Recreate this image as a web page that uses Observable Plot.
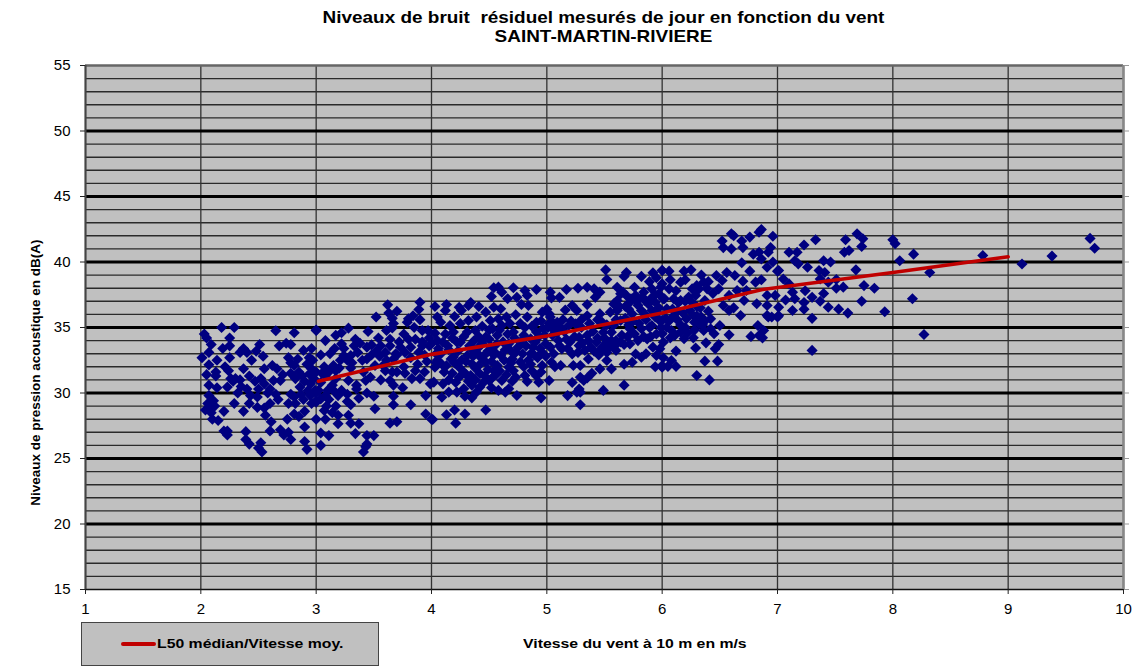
<!DOCTYPE html>
<html><head><meta charset="utf-8">
<script src="https://cdn.jsdelivr.net/npm/d3@7"></script>
<script src="https://cdn.jsdelivr.net/npm/@observablehq/plot@0.6"></script>
<style>
html,body{margin:0;padding:0;background:#fff;}
body{width:1135px;height:668px;position:relative;overflow:hidden;font-family:"Liberation Sans",Arial,sans-serif;color:#000;}
#title{position:absolute;left:0;top:8px;width:1207px;text-align:center;font-weight:bold;font-size:15.85px;line-height:19px;transform:scaleX(1.195);transform-origin:603.5px 0;white-space:nowrap;}
#chart{position:absolute;left:0;top:0;}
#xlabel{position:absolute;left:523px;top:636px;font-weight:bold;font-size:13.4px;transform:scaleX(1.18);transform-origin:0 0;white-space:nowrap;}
#legend{position:absolute;left:81px;top:622px;width:296px;height:42px;background:#c0c0c0;border:1px solid #444;}
#legend i{position:absolute;left:39px;top:19px;width:35px;height:4px;border-radius:2px;background:#c00000;}
#legend span{position:absolute;left:75px;top:13px;font-weight:bold;font-size:13.4px;white-space:nowrap;transform:scaleX(1.18);transform-origin:0 0;}
</style></head><body>
<div id="chart"></div>
<div id="title">Niveaux de bruit&nbsp; résiduel mesurés de jour en fonction du vent<br>SAINT-MARTIN-RIVIERE</div>
<div id="xlabel">Vitesse du vent à 10 m en m/s</div>
<div id="legend"><i></i><span>L50 médian/Vitesse moy.</span></div>
<script>
const xTicks=[1,2,3,4,5,6,7,8,9,10];
const yMajor=[15,20,25,30,35,40,45,50,55];
const yMinor=[16,17,18,19,21,22,23,24,26,27,28,29,31,32,33,34,36,37,38,39,41,42,43,44,46,47,48,49,51,52,53,54];
const median=[[3.02,30.9],[4,32.95],[5,34.35],[6,36.1],[6.87,37.9],[8,39.2],[9,40.4]];
const band2=[[2.18,35.0],[2.29,35.0],[2.65,34.75],[2.81,34.6],[3.0,34.8],[2.03,34.5],[2.05,34.2],[2.09,33.7],[2.25,34.2],[2.25,33.6],[2.19,33.4],[2.37,33.4],[2.34,33.1],[2.4,33.1],[2.48,33.2],[2.51,33.7],[2.68,33.6],[2.74,33.8],[2.78,33.7],[2.89,33.25],[2.96,33.4],[2.94,32.7],[2.01,32.7],[2.07,33.1],[2.25,32.7],[2.14,32.5],[2.44,32.5],[2.54,32.8],[2.76,32.7],[2.07,32.15],[2.13,31.6],[2.05,31.4],[2.13,31.3],[2.21,32.0],[2.24,31.7],[2.26,31.1],[2.23,30.45],[2.14,30.4],[2.07,30.6],[2.07,29.8],[2.11,29.4],[2.08,28.9],[2.04,28.7],[2.1,28],[2.15,27.9],[2.2,28.6],[2.29,29.2],[2.37,28.6],[2.32,30],[2.3,31.1],[2.34,31],[2.37,31.85],[2.42,31.3],[2.4,30.3],[2.43,29.8],[2.42,29.2],[2.49,29.7],[2.49,28.9],[2.55,28.85],[2.6,29.2],[2.55,31.85],[2.52,31.1],[2.55,30.7],[2.5,30.3],[2.62,32.1],[2.66,31.85],[2.69,30.95],[2.63,30.95],[2.6,30.3],[2.65,29.9],[2.67,29.5],[2.78,32.3],[2.81,32.1],[2.78,31.5],[2.85,31.6],[2.88,31.3],[2.82,31.1],[2.86,30.45],[2.78,29.9],[2.81,29.7],[2.76,29.2],[2.82,29.2],[2.89,29.5],[2.96,29.2],[2.9,28.6],[2.81,28.4],[2.85,28.2],[2.75,28],[2.56,28.3],[2.61,27.8],[2.6,27.1],[2.9,27.4],[2.69,27.2],[2.72,26.8],[2.76,27],[2.78,26.45],[2.9,26.3],[2.92,25.7],[2.2,27.1],[2.23,26.8],[2.23,27.1],[2.39,27.05],[2.39,26.45],[2.42,26.1],[2.52,26.2],[2.5,25.8],[2.53,25.5],[2.96,31.85],[2.94,31.45],[2.98,31.1],[2.95,30.7],[3.0,31.6],[2.99,30.2],[2.95,29.8],[3.0,29.4],[2.06,29.2],[2.12,29.0],[2.09,28.5],[2.28,30.9],[2.35,30.5],[2.47,30.9],[2.58,30.0],[2.71,31.4],[2.92,32.2],[2.97,32.5],[2.9,30.9],[2.87,29.9],[2.93,30.2],[2.84,32.6]];
const band3=[[3.62,36.73],[3.9,36.93],[3.89,36.37],[3.7,36.24],[3.63,36.1],[3.52,35.8],[3.66,35.7],[3.67,35.3],[3.8,35.66],[3.79,35.4],[3.9,35.6],[3.84,35.9],[3.28,34.95],[3.0,34.77],[3.45,34.7],[3.61,34.77],[3.66,34.97],[3.85,35.0],[3.92,34.77],[3.97,34.77],[3.76,34.5],[3.22,34.6],[3.17,34.4],[3.08,34],[3.54,34.2],[3.34,34.1],[3.38,33.8],[3.33,33.6],[3.22,33.75],[3.48,33.67],[3.56,33.6],[3.64,34.1],[3.64,33.6],[3.73,33.5],[3.8,34.1],[3.86,34.1],[3.92,33.6],[3.98,33.6],[3.77,33.1],[3.89,33.1],[3.16,33.4],[3.24,33.4],[3.04,32.9],[3.24,32.86],[3.3,32.86],[3.48,32.9],[3.4,32.5],[3.44,32.6],[3.21,32.5],[3.27,32.5],[3.07,32],[3.15,32.1],[3.17,31.7],[3.3,31.9],[3.51,32.1],[3.61,32.5],[3.67,32.6],[3.7,31.6],[3.76,32],[3.86,31.7],[3.83,31.1],[3.9,31.1],[3.99,30.7],[3.08,31.3],[3.17,31.1],[3.28,30.95],[3.47,31.2],[3.56,31],[3.43,30.95],[3.64,30.95],[3.67,30.6],[3.75,30.4],[3.35,30.6],[3.35,30.3],[3.14,30.6],[3.02,30.2],[3.27,29.9],[3.44,30],[3.5,29.75],[3.37,29.6],[3.27,29.35],[3.3,29.1],[3.67,29.75],[3.67,29.1],[3.95,29.8],[3.82,29.1],[3.51,28.8],[3.07,28.66],[3.09,29],[3.17,29],[3.14,28.5],[3.19,28.3],[3.28,28.3],[3.95,28.4],[4.0,28],[3.0,28],[3.08,28],[3.19,27.65],[3.3,27.7],[3.37,27.65],[3.64,27.7],[3.7,27.8],[3.11,26.75],[3.04,26.95],[3.34,26.9],[3.44,26.75],[3.5,26.75],[3.44,26.1],[3.43,25.9],[3.41,25.5],[3.04,26],[3.0,30],[3.04,29.55],[3.0,29.3],[3.08,29.8],[3.04,30.8],[3.92,33.9],[3.96,32.4],[3.82,32.7],[3.72,33.9],[3.55,32.8],[3.6,31.7],[3.94,31.6],[3.98,34.2],[3.12,33.0],[3.1,30.2],[3.22,30.2],[3.31,32.3],[3.41,31.6]];
const band4=[[4.54,38.03],[4.58,38.08],[4.61,37.7],[4.71,38.03],[4.81,37.83],[4.91,37.9],[4.52,37.37],[4.66,37.2],[4.74,37.3],[4.83,37.45],[4.78,36.76],[4.84,36.68],[4.03,36.6],[4.13,36.76],[4.24,36.55],[4.26,36.3],[4.34,36.9],[4.32,36.68],[4.41,36.6],[4.47,36.17],[4.54,36.55],[4.6,36.43],[4.12,36.3],[4.05,35.8],[4.08,35.4],[4.2,35.84],[4.16,35.15],[4.25,35.3],[4.32,35.54],[4.39,35.8],[4.51,35.54],[4.58,35.66],[4.65,35.8],[4.73,35.97],[4.83,35.8],[4.96,36.17],[5.02,36.05],[4.91,35.4],[5.02,35.3],[4.03,34.57],[4.12,34.5],[4.19,34.65],[4.31,34.65],[4.38,34.77],[4.5,34.8],[4.61,35.15],[4.71,34.65],[4.81,35],[4.91,34.65],[4,33.76],[4.1,33.88],[4.25,33.88],[4.37,34],[4.47,34.27],[4.57,34.4],[4.67,33.76],[4.77,33.88],[4.86,34.14],[4.99,33.76],[4.08,32.99],[4.19,32.74],[4.31,32.86],[4.39,33.1],[4.52,33.5],[4.6,32.86],[4.73,33.1],[4.86,33],[4.94,33.4],[4.77,32.36],[4.96,32.1],[4.03,31.97],[4.13,32.1],[4.24,31.97],[4.35,32.23],[4.47,32.36],[4.57,32.1],[4.67,31.97],[4.02,30.83],[4.15,31],[4.11,31.6],[4.24,31.2],[4.34,31.34],[4.42,31.47],[4.5,30.96],[4.54,31.72],[4.61,30.96],[4.73,31.2],[4.81,31.34],[4.83,30.88],[4.93,30.83],[4.95,31.6],[4.42,30.45],[4.28,30.32],[4.15,30.07],[4.09,29.68],[4.22,30.07],[4.29,29.76],[4.35,29.63],[4.39,30.07],[4.58,30.2],[4.67,30.32],[4.64,30.07],[4.74,29.81],[4.95,29.63],[4.2,28.7],[4.13,28.34],[4.29,28.4],[4.47,28.7],[4.01,27.98],[4.21,27.7],[4.06,33.4],[4.15,33.3],[4.22,33.9],[4.28,34.3],[4.35,33.3],[4.44,33.8],[4.46,32.9],[4.55,33.1],[4.62,33.9],[4.66,34.5],[4.7,32.6],[4.8,34.4],[4.84,32.5],[4.92,32.7],[4.9,33.9],[4.97,34.9],[4.44,35.1],[4.53,34.9],[4.68,35.3],[4.77,35.3],[4.87,35.1],[4.05,32.5],[4.17,32.6],[4.26,32.5],[4.38,31.9],[4.49,31.8],[4.56,31.4],[4.63,32.5],[4.71,31.7],[4.87,31.7],[4.91,31.3],[4.32,30.9],[4.45,30.8],[4.18,31.5],[4.28,31.6],[4.43,32.7],[4.1,30.7],[4.52,30.4],[4.99,32.8],[4.04,33.0],[4.95,35.5]];
const band5=[[5.51,39.4],[5.52,38.66],[5.69,39.2],[5.67,38.9],[5.82,38.9],[5.92,39.17],[6,39.35],[5.89,38.5],[5.95,38.8],[5.17,37.9],[5.27,38],[5.35,38.07],[5.41,37.95],[5.46,37.7],[5.03,37.7],[5.04,37.26],[5.11,37.3],[5.42,37.3],[5.35,36.75],[5.61,38.07],[5.64,37.57],[5.76,38.07],[5.69,37.44],[5.77,37.44],[5.84,37.7],[5.91,37.95],[5.97,37.57],[5.61,37.06],[5.72,36.93],[5.85,37.06],[5.94,36.93],[6.01,37.18],[5.16,36.34],[5.22,36.67],[5.26,36.3],[5,36.4],[5.35,35.9],[5.46,36.04],[5.55,36.17],[5.61,36.3],[5.74,36.04],[5.82,36.3],[5.91,36.3],[5.03,35.8],[5.09,35.4],[5.19,35.15],[5.25,35.28],[5.48,35.4],[5.64,35.53],[5.94,35.8],[5.01,35],[5.1,34],[5.28,34.26],[5.35,34.4],[5.49,34.64],[5.56,34.64],[5.65,34.4],[5.72,34.9],[5.82,34.9],[5.91,35.15],[5.99,35],[5.79,34],[5.87,34.13],[5.72,33.75],[5.03,33.5],[5.13,33.37],[5.22,32.98],[5.28,33.62],[5.33,33.24],[5.43,33.88],[5.46,33.24],[5.54,33.5],[5.6,33.24],[5.36,32.6],[5.82,32.73],[5.77,32.98],[5.95,32.86],[5.98,33.37],[6.01,33.88],[5.04,32.35],[5.07,32],[5.12,32.1],[5.23,32.1],[5.29,32.1],[5.52,32.48],[5.56,31.84],[5.46,31.84],[5.39,31.5],[5.67,32.2],[5.74,32.35],[5.94,32],[6,31.97],[5.29,31.2],[5.35,31.15],[5.32,30.95],[5.02,30.95],[5.22,30.8],[5.28,30.3],[5.26,30.06],[5.29,30.06],[5.67,30.6],[5.49,30.2],[5.18,29.8],[5.29,29.1],[5.05,34.4],[5.15,34.7],[5.2,33.9],[5.12,35.0],[5.38,33.5],[5.4,34.7],[5.52,33.9],[5.58,35.2],[5.67,33.7],[5.75,35.5],[5.86,35.6],[5.9,34.3],[5.95,34.5],[5.6,34.0],[5.45,32.9],[5.52,33.1],[5.86,33.0],[5.92,33.5],[5.3,35.0],[5.68,36.6],[5.97,36.5],[5.79,36.7],[5.88,36.8],[5.58,36.8],[5.66,37.7],[5.99,38.1],[5.94,37.5],[5.06,33.0]];
const band6=[[6.6,42.15],[6.62,42],[6.52,41.6],[6.86,42.48],[6.84,42.28],[6.96,41.97],[6.76,41.9],[6.69,41.6],[6.53,41.1],[6.6,41],[6.7,41.1],[6.79,40.6],[6.84,40.75],[6.94,41.1],[6.92,40.75],[6.86,40.24],[6.91,39.6],[6.96,40],[6.69,39.94],[6.76,39.3],[7,39.3],[6,39.35],[6.06,39.3],[6.19,39.3],[6.25,39.4],[6.34,39],[6.47,38.97],[6.56,39.2],[6.63,38.97],[6.7,38.54],[6.07,38.64],[6.16,38.46],[6.2,38.64],[6.36,38.46],[6.52,38.59],[6.81,38.46],[6.86,38.64],[6,38.34],[6.06,37.95],[6.26,37.95],[6.32,37.95],[6.39,37.95],[6.49,37.95],[6.65,37.83],[6.73,37.83],[6.1,37.19],[6.16,37.06],[6.29,37.45],[6.23,37.32],[6.37,37.06],[6.58,37.45],[6.91,37.45],[6.98,37.45],[6.71,37.06],[6.82,36.81],[6.91,36.68],[6.53,36.68],[6.58,36.3],[6.62,36.5],[6.04,36.43],[6.13,36.25],[6.4,36.25],[6.27,35.92],[6.21,35.66],[6.34,35.8],[6.42,35.66],[6.68,35.92],[6.91,35.92],[6.95,35.8],[7,35.8],[6,35.54],[6.2,35],[6.32,35.28],[6.5,35.15],[6.08,34.77],[6.16,34.65],[6.36,34.77],[6.45,34.52],[6.58,34.44],[6.83,35.15],[6.88,34.77],[6.77,34.32],[6.84,34.39],[6.87,34.21],[6.07,34.21],[6.19,34.14],[6.27,34.21],[6,34.52],[6.38,33.83],[6.29,33.43],[6.46,33.37],[6.49,33.7],[6.12,33.2],[6.01,32.69],[6.08,32.48],[6.12,32.03],[6.05,32.03],[6,32.1],[6.37,32.43],[6.48,32.43],[6.3,31.34],[6.41,31],[6.3,36.6],[6.35,35.2],[6.28,35.4],[6.24,36.3],[6.33,36.5],[6.44,37.6],[6.3,38.2],[6.4,38.5],[6.12,37.8],[6.02,37.2],[6.06,35.5],[6.1,35.9],[6.16,35.2]];
const band7=[[7.23,41.3],[7.33,41.7],[7.1,40.75],[7.17,40.75],[7.15,40.1],[7.18,39.86],[7.26,39.6],[7.01,39.35],[7.05,38.7],[7.1,38.33],[7.36,39.35],[7.4,40.1],[7.46,40],[7.41,39.2],[7.59,41.7],[7.62,40.88],[7.58,40.75],[7.69,42.15],[7.74,41.77],[7.73,41.18],[7.68,39.4],[7.37,38.7],[7.51,38.66],[7.44,38.46],[7.51,38],[7.57,38.08],[7.75,38.2],[7.84,38],[8,41.7],[8.02,41.4],[8.06,40.1],[8.18,40.6],[8.32,39.2],[8.17,37.2],[7.93,36.2],[7.73,37],[7.61,36.1],[7.53,36.4],[7.44,36.55],[7.37,37],[7.4,37.6],[7.24,37.8],[7.13,37.7],[7.15,37.2],[7.07,37.1],[7.23,36.9],[7.3,37.3],[7.23,36.4],[7.13,36.3],[7.01,36.55],[7.01,35.9],[6.92,35.8],[7.3,35.7],[7.3,33.25],[8.27,34.47],[8.78,40.5],[9.12,39.85],[9.38,40.45],[9.71,41.8],[9.75,41.05]];
const core=[[4.05,34.0],[4.14,33.6],[4.18,34.2],[4.23,33.2],[4.33,33.6],[4.41,33.5],[4.41,34.3],[4.49,33.2],[4.5,34.1],[4.56,33.7],[4.59,34.8],[4.64,33.3],[4.69,33.2],[4.72,34.2],[4.75,33.5],[4.79,33.0],[4.82,33.6],[4.88,33.5],[4.93,34.3],[4.96,33.1],[4.98,34.4],[4.04,32.3],[4.09,32.2],[4.2,32.3],[4.3,32.4],[4.36,32.8],[4.41,32.1],[4.52,32.4],[4.54,32.9],[4.59,31.7],[4.65,31.4],[4.69,32.3],[4.8,32.0],[4.86,32.2],[4.89,32.9],[4.3,31.4],[4.38,31.0],[4.46,31.3],[4.52,31.1],[4.7,30.9],[4.21,30.8],[4.35,30.6],[5.05,34.9],[5.09,34.6],[5.11,33.6],[5.17,34.1],[5.18,33.4],[5.24,34.3],[5.27,33.1],[5.31,33.8],[5.36,34.0],[5.41,33.2],[5.44,34.2],[5.48,33.5],[5.5,34.2],[5.56,34.0],[5.59,33.6],[5.64,33.9],[5.7,34.3],[5.76,34.5],[5.84,34.3],[5.06,35.3],[5.14,35.6],[5.21,35.5],[5.3,35.6],[5.37,35.3],[5.44,35.6],[5.52,35.2],[5.6,35.6],[5.68,35.7],[5.71,35.2],[5.8,35.3],[5.89,35.0],[5.97,35.6],[5.78,37.0],[5.73,37.2],[5.83,37.3],[5.9,37.2],[5.63,36.6],[5.71,36.4],[5.85,36.0],[5.96,36.1],[6.03,35.7],[6.09,36.4],[6.14,36.9],[6.18,36.1],[6.2,37.0],[6.26,36.9],[6.13,35.6],[6.22,34.6],[6.28,34.8],[6.3,35.9],[6.37,35.5],[6.42,34.9],[6.11,34.4],[6.04,35.0],[3.15,30.2],[3.19,29.8],[3.11,29.5],[3.05,31.5],[3.12,31.7],[3.2,31.9],[3.36,33.1],[3.44,33.5],[3.52,33.2],[3.6,33.1],[3.69,33.0],[3.82,33.5],[3.7,32.9],[3.94,32.9],[3.88,32.2],[3.77,31.5],[3.66,31.6],[3.58,32.1]];
const points=[...band2,...band3,...band4,...band5,...band6,...band7,...core];
const chart=Plot.plot({
  width:1135,height:668,
  marginLeft:85,marginRight:12,marginTop:65,marginBottom:79,
  style:{background:"transparent",fontFamily:'"Liberation Sans",Arial,sans-serif',fontSize:"15px",color:"#000",overflow:"visible"},
  x:{type:"linear",domain:[1,10],label:null},
  y:{type:"linear",domain:[15,55],label:null},
  marks:[
    Plot.rect([0],{x1:1,x2:10,y1:15,y2:55,fill:"#c0c0c0"}),
    Plot.ruleY(yMinor,{stroke:"#2a2a2a",strokeWidth:1.4}),
    Plot.ruleX(xTicks,{stroke:"#333",strokeWidth:1.3}),
    Plot.ruleY(yMajor.filter(d=>d>15&&d<55),{stroke:"#000",strokeWidth:3}),
    Plot.ruleY([15],{stroke:"#111",strokeWidth:1.5}),
    Plot.ruleY([55],{stroke:"#666",strokeWidth:2.5}),
    Plot.ruleX([1],{stroke:"#444",strokeWidth:2}),
    Plot.ruleX([10],{stroke:"#888",strokeWidth:2.5}),
    Plot.axisY({anchor:"right",ticks:yMajor,tickSize:5,text:null,label:null,stroke:"#999"}),
    Plot.axisY({ticks:yMajor,tickSize:5,tickPadding:10,label:null,fontSize:15,stroke:"#222"}),
    Plot.axisX({ticks:xTicks,tickSize:5,tickPadding:9,label:null,fontSize:15,stroke:"#222"}),
    Plot.text(["Niveaux de pression acoustique en dB(A)"],{x:1,y:31.56,dx:-50,rotate:-90,fontWeight:"bold",fontSize:13.5,textAnchor:"middle"}),
    Plot.dot(points,{x:d=>d[0],y:d=>d[1],symbol:"diamond2",r:5,fill:"#000080",stroke:"none"}),
    Plot.line(median,{x:d=>d[0],y:d=>d[1],stroke:"#c00000",strokeWidth:3.6,strokeLinecap:"round"})
  ]
});
document.getElementById("chart").appendChild(chart);
</script>
</body></html>
